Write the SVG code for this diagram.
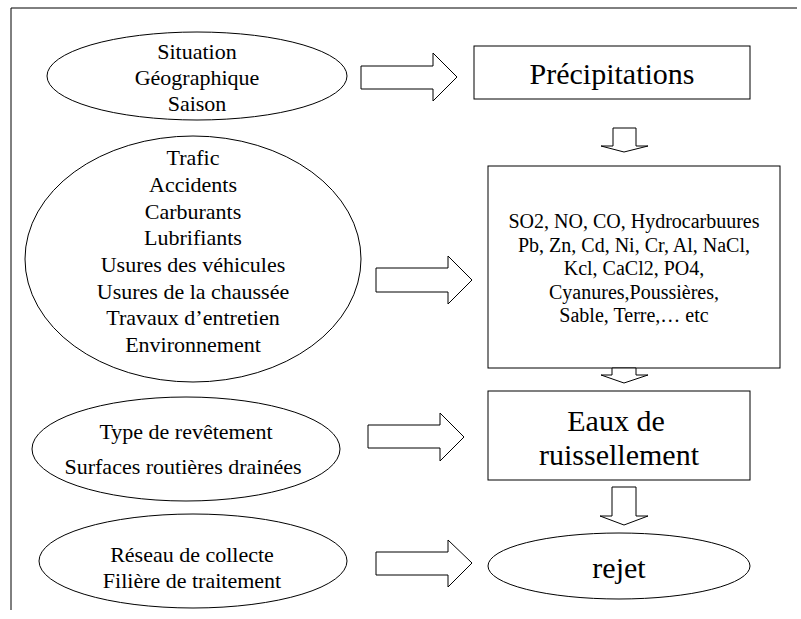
<svg xmlns="http://www.w3.org/2000/svg" width="801" height="619" viewBox="0 0 801 619">
<style>
.s{fill:#fff;stroke:#000;stroke-width:1}
.t{font-family:"Liberation Serif","Times New Roman",serif;fill:#000;text-anchor:middle}
.f22{font-size:22px}
.f20{font-size:20px}
.f30{font-size:30px}
</style>
<rect x="0" y="0" width="801" height="619" fill="#fff"/>
<g id="frame">
<path d="M11,8 H797 M11,8 V610" fill="none" stroke="#000" stroke-width="1"/>
</g>
<g id="n1">
<ellipse class="s" cx="197" cy="76" rx="150" ry="44"/>
<text class="t f22" x="197" y="59">Situation</text>
<text class="t f22" x="197" y="85">Géographique</text>
<text class="t f22" x="197" y="111">Saison</text>
</g>
<g id="n2">
<rect class="s" x="474" y="46" width="276" height="53"/>
<text class="t f30" x="612" y="84">Précipitations</text>
</g>
<g id="n3">
<ellipse class="s" cx="193" cy="259" rx="168" ry="123"/>
<text class="t f22" x="193" y="165">Trafic</text>
<text class="t f22" x="193" y="192">Accidents</text>
<text class="t f22" x="193" y="219">Carburants</text>
<text class="t f22" x="193" y="245">Lubrifiants</text>
<text class="t f22" x="193" y="272">Usures des véhicules</text>
<text class="t f22" x="193" y="299">Usures de la chaussée</text>
<text class="t f22" x="193" y="325">Travaux d’entretien</text>
<text class="t f22" x="193" y="352">Environnement</text>
</g>
<g id="n4">
<rect class="s" x="488" y="166" width="292" height="202"/>
<text class="t f20" x="634" y="228">SO2, NO, CO, Hydrocarbuures</text>
<text class="t f20" x="634" y="252">Pb, Zn, Cd, Ni, Cr, Al, NaCl,</text>
<text class="t f20" x="634" y="275">Kcl, CaCl2, PO4,</text>
<text class="t f20" x="634" y="299">Cyanures,Poussières,</text>
<text class="t f20" x="634" y="322">Sable, Terre,… etc</text>
</g>
<g id="n5">
<ellipse class="s" cx="186" cy="449" rx="154" ry="52"/>
<text class="t f22" x="186" y="439">Type de revêtement</text>
<text class="t f22" x="183" y="474">Surfaces routières drainées</text>
</g>
<g id="n6">
<rect class="s" x="488" y="391" width="262" height="89"/>
<text class="t f30" x="616" y="431">Eaux de</text>
<text class="t f30" x="619" y="465">ruissellement</text>
</g>
<g id="n7">
<ellipse class="s" cx="193" cy="561" rx="154" ry="47"/>
<text class="t f22" x="192" y="562">Réseau de collecte</text>
<text class="t f22" x="192" y="588">Filière de traitement</text>
</g>
<g id="n8">
<ellipse class="s" cx="619" cy="566" rx="131" ry="33"/>
<text class="t f30" x="619" y="578">rejet</text>
</g>
<g id="connectors">
<path class="s" d="M361,66 H433 V53 L457,77 L433,101 V89 H361 Z"/>
<path class="s" d="M376,268 H448 V256 L472,280 L448,304 V292 H376 Z"/>
<path class="s" d="M368,425 H440 V413 L464,437 L440,461 V448 H368 Z"/>
<path class="s" d="M376,552 H448 V540 L472,563 L448,587 V575 H376 Z"/>
<path class="s" d="M613,128 H636 V146 H648 L624,152 L601,146 H613 Z"/>
<path class="s" d="M612,368 H636 V375 H648 L624,383 L601,375 H612 Z"/>
<path class="s" d="M612,487 H636 V516 H648 L624,525 L600,516 H612 Z"/>
</g>
</svg>
